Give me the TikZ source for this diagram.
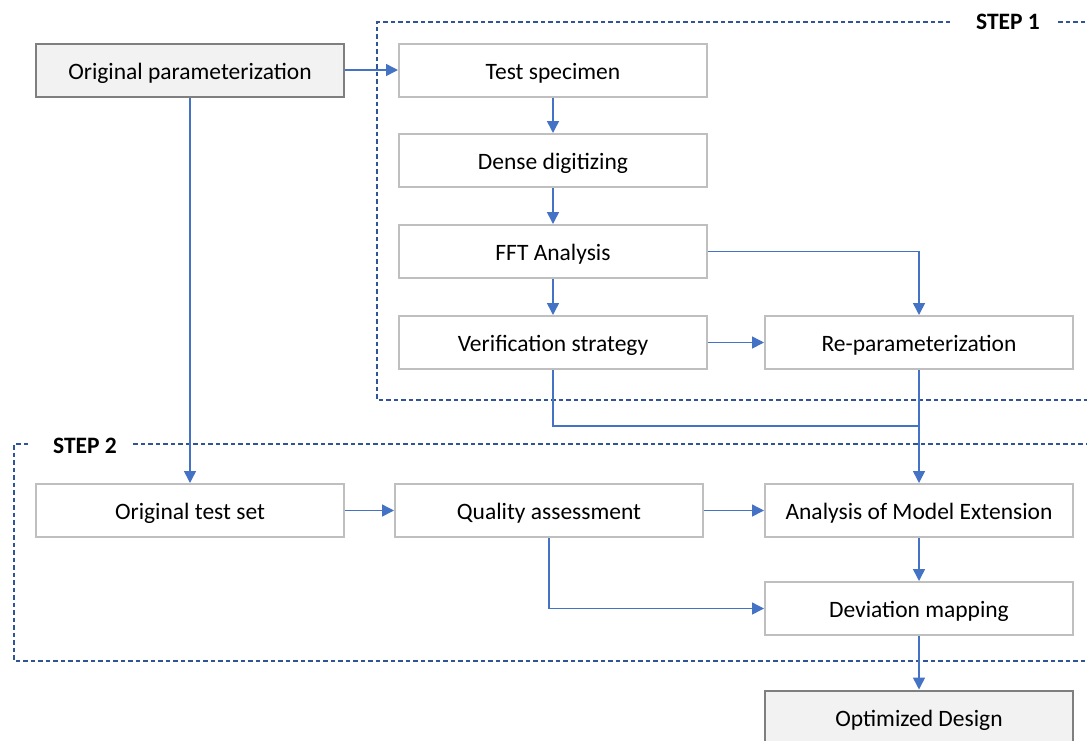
\documentclass[tikz,border=0pt]{standalone}
\usepackage{fontspec}
\setmainfont{Carlito}
\usetikzlibrary{arrows.meta}
\definecolor{boxgray}{HTML}{BFBFBF}
\definecolor{darkgray}{HTML}{7F7F7F}
\definecolor{fillgray}{HTML}{F2F2F2}
\definecolor{arrblue}{HTML}{4472C4}
\definecolor{dashblue}{HTML}{2F5597}
\tikzset{
  procbox/.style={draw=boxgray, line width=2pt, fill=white, minimum width=308pt, minimum height=53pt, inner sep=0pt, text height=22pt, text depth=4pt, font=\fontsize{23.5}{28}\selectfont},
  endbox/.style={procbox, draw=darkgray, fill=fillgray},
  conn/.style={draw=arrblue, line width=1.5pt},
  arr/.style={conn, -{Triangle[length=12pt,width=12pt]}},
  stepline/.style={draw=dashblue, line width=1.5pt, dash pattern=on 4.5pt off 3pt},
  steplabel/.style={font=\fontsize{23.5}{28}\selectfont\bfseries, inner sep=0pt}
}
\begin{document}
\begin{tikzpicture}[x=1pt,y=-1pt]
\useasboundingbox (0,0) rectangle (1087,740);
% step frames
\node[steplabel] (s1) at (1008,22) {STEP 1};
\node[steplabel] (s2) at (85,446) {STEP 2};
\draw[stepline] (950,22) -- (377,22) -- (377,400) -- (1087,400);
\draw[stepline] (1058,22) -- (1087,22);
\draw[stepline] (28,444) -- (14,444) -- (14,661) -- (1087,661);
\draw[stepline] (133,444) -- (1087,444);
% nodes
\node[endbox] (op) at (190,70) {Original parameterization};
\node[procbox] (ts) at (553,70) {Test specimen};
\node[procbox] (dd) at (553,160.5) {Dense digitizing};
\node[procbox] (fft) at (553,251.5) {FFT Analysis};
\node[procbox] (vs) at (553,342.5) {Verification strategy};
\node[procbox] (rp) at (919,342.5) {Re-parameterization};
\node[procbox] (ots) at (190,510.5) {Original test set};
\node[procbox] (qa) at (549,510.5) {Quality assessment};
\node[procbox] (ame) at (919,510.5) {Analysis of Model Extension};
\node[procbox] (dm) at (919,608.5) {Deviation mapping};
\node[endbox] (od) at (919,717) {Optimized Design};
\coordinate (j) at (919,426);
% connectors
\draw[arr] (op.east) -- (ts.west);
\draw[arr] (op.south) -- (ots.north);
\draw[arr] (ts.south) -- (dd.north);
\draw[arr] (dd.south) -- (fft.north);
\draw[arr] (fft.south) -- (vs.north);
\draw[arr] (fft.east) -| (rp.north);
\draw[arr] (vs.east) -- (rp.west);
\draw[conn] (vs.south) |- (j);
\draw[arr] (rp.south) -- (ame.north);
\draw[arr] (ots.east) -- (qa.west);
\draw[arr] (qa.east) -- (ame.west);
\draw[arr] (qa.south) |- (dm.west);
\draw[arr] (ame.south) -- (dm.north);
\draw[arr] (dm.south) -- (od.north);
\end{tikzpicture}
\end{document}
